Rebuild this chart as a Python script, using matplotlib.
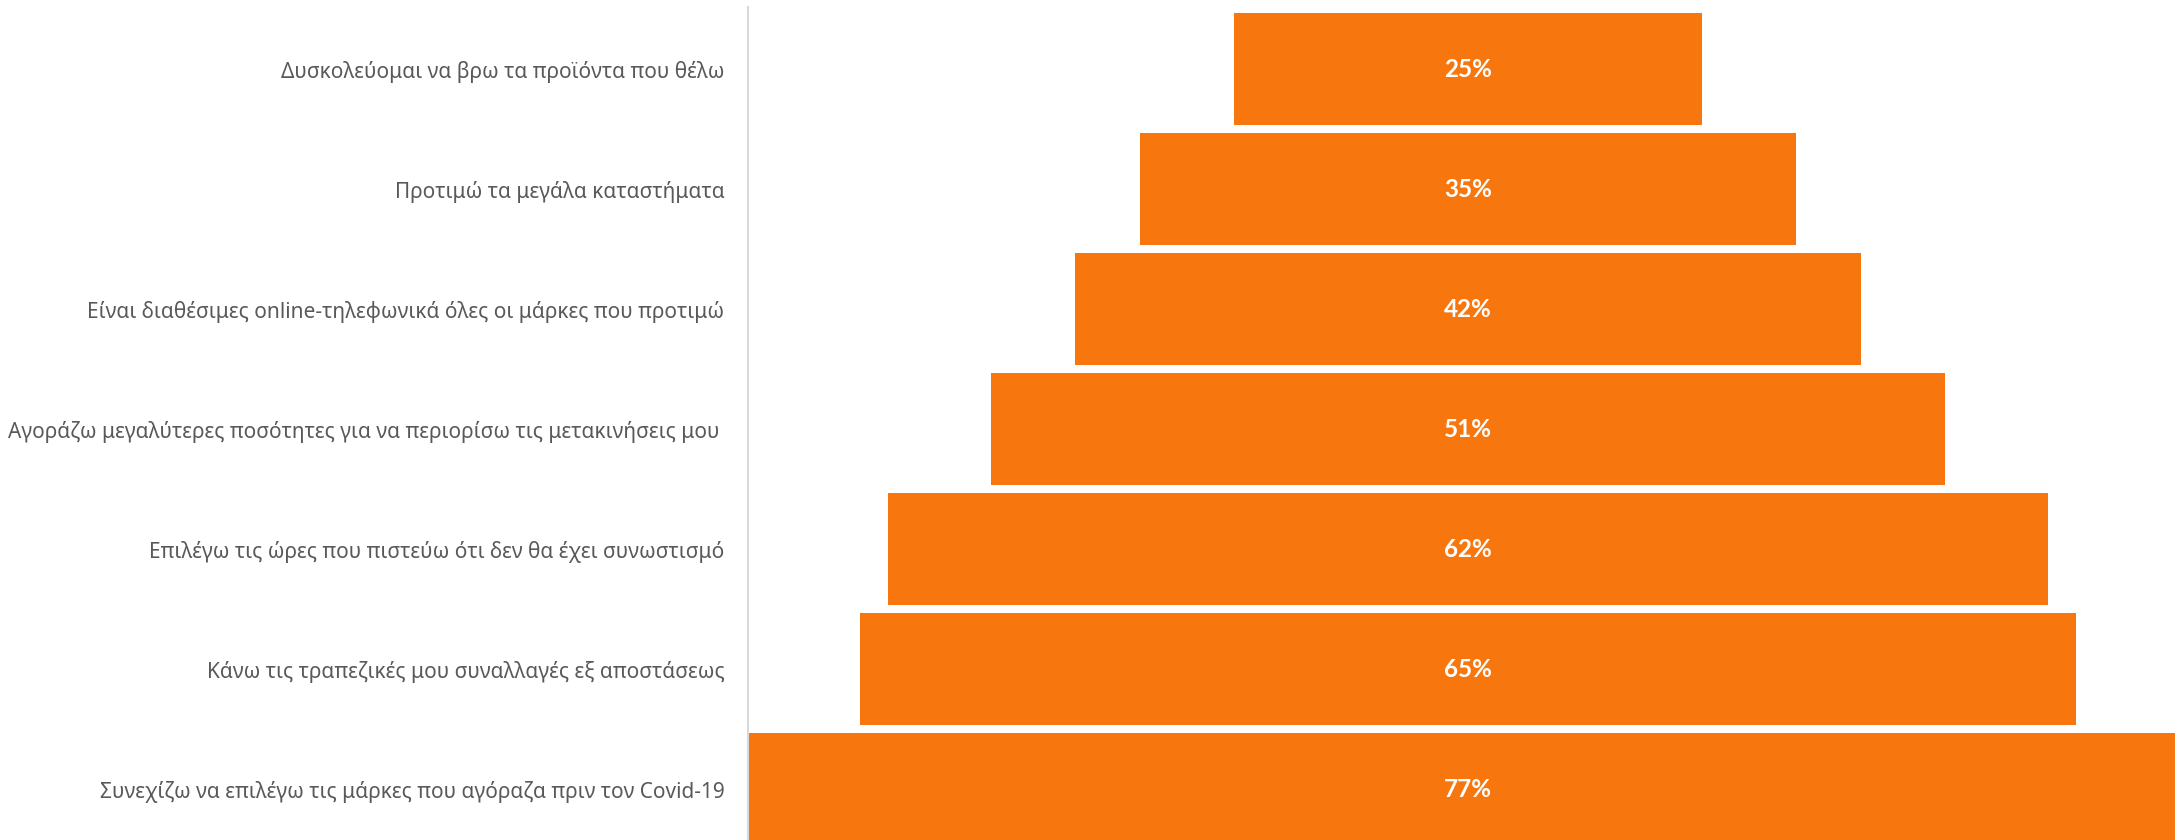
import matplotlib.pyplot as plt

# survey answers, top to bottom
categories = [
    "Δυσκολεύομαι να βρω τα προϊόντα που θέλω",
    "Προτιμώ τα μεγάλα καταστήματα",
    "Είναι διαθέσιμες online-τηλεφωνικά όλες οι μάρκες που προτιμώ",
    "Αγοράζω μεγαλύτερες ποσότητες για να περιορίσω τις μετακινήσεις μου ",
    "Επιλέγω τις ώρες που πιστεύω ότι δεν θα έχει συνωστισμό",
    "Κάνω τις τραπεζικές μου συναλλαγές εξ αποστάσεως",
    "Συνεχίζω να επιλέγω τις μάρκες που αγόραζα πριν τον Covid-19",
]
values = [25, 35, 42, 51, 62, 65, 77]

orange = "#F7770E"
label_grey = "#595959"

fig = plt.figure(figsize=(21.75, 8.4), dpi=100)
ax = fig.add_axes([748 / 2175, 0, 1 - 748 / 2175, 1 - 7 / 840])

ypos = list(range(len(values)))
# funnel: each bar centred on zero
ax.barh(ypos, values, left=[-v / 2 for v in values], height=0.93,
        color=orange, edgecolor="none")

for y, v in zip(ypos, values):
    ax.text(0, y, f"{v}%", ha="center", va="center", color="white",
            fontsize=17.5, fontweight="bold", family=["Lato", "DejaVu Sans"])

ax.set_xlim(-38.46, 37.77)
ax.set_ylim(6.425, -0.517)
ax.set_yticks(ypos)
ax.set_yticklabels(categories, fontsize=15, color=label_grey,
                   family=["Liberation Sans Narrow", "Noto Sans", "DejaVu Sans"])
ax.tick_params(axis="y", length=0, pad=17)
ax.set_xticks([])

for side in ["top", "right", "bottom"]:
    ax.spines[side].set_visible(False)
ax.spines["left"].set_color("#D9D9D9")
ax.spines["left"].set_linewidth(1.5)

fig.savefig("out.png", dpi=100)
